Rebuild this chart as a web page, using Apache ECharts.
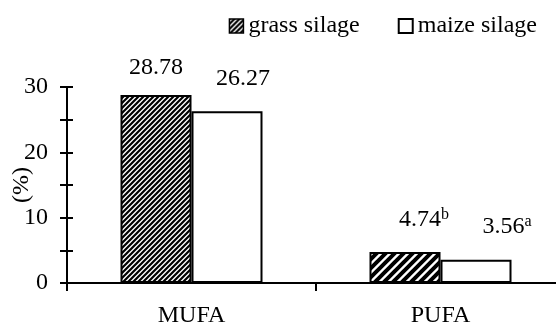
<!DOCTYPE html>
<html><head><meta charset="utf-8">
<script src="https://cdn.jsdelivr.net/npm/echarts@6/dist/echarts.min.js"></script>
<style>html,body{margin:0;padding:0;background:#fff}#c{width:556px;height:328px}</style>
</head><body><div id="c"></div>
<script>
var categories = ['MUFA', 'PUFA'];
var grassValues = [28.78, 4.74];
var maizeValues = [26.27, 3.56];
var grassSup = ['', 'b'];
var maizeSup = ['', 'a'];
var yMin = 0, yMax = 30, yStep = 5, yLabelStep = 10;

var grassLabelOffset = [[0, -14], [19, -19]];
var maizeLabelOffset = [[16, -20], [31, -20]];

function hatch(period, lw) {
  var c = document.createElement('canvas');
  c.width = period; c.height = period;
  var g = c.getContext('2d');
  g.fillStyle = '#fff'; g.fillRect(0, 0, period, period);
  g.strokeStyle = '#000'; g.lineWidth = lw;
  g.beginPath();
  for (var k = -1; k <= 1; k++) {
    g.moveTo(-period + k * period, period * 2);
    g.lineTo(period * 2 + k * period, -period);
  }
  g.stroke();
  return { image: c, repeat: 'repeat' };
}
var hatchFine = hatch(5, 2.2);
var hatchCoarse = hatch(9, 4);

var font = '"Liberation Serif", "Times New Roman", serif';
var FS = 24;
var rich = {
  v: { fontFamily: font, fontSize: FS, color: '#000', lineHeight: 26 },
  s: { fontFamily: font, fontSize: 16, color: '#000', lineHeight: 26, verticalAlign: 'top', padding: [0, 0, 10, 0] }
};

function items(vals, sups, offs, colors) {
  return vals.map(function (v, i) {
    return {
      value: v,
      itemStyle: colors ? { color: colors[i] } : undefined,
      label: { offset: offs[i], formatter: '{v|' + v.toFixed(2) + '}' + (sups[i] ? '{s|' + sups[i] + '}' : '') }
    };
  });
}

var chart = echarts.init(document.getElementById('c'), null, { renderer: 'canvas' });
chart.setOption({
  animation: false,
  backgroundColor: '#fff',
  textStyle: { fontFamily: font },
  legend: {
    right: 14, top: 9,
    itemWidth: 14, itemHeight: 14, itemGap: 38,
    textStyle: { fontFamily: font, fontSize: FS, color: '#000' },
    data: [
      { name: 'grass silage', icon: 'rect', itemStyle: { color: hatchFine, borderColor: '#000', borderWidth: 1.5 } },
      { name: 'maize silage', icon: 'rect', itemStyle: { color: '#fff', borderColor: '#000', borderWidth: 2 } }
    ]
  },
  grid: { left: 67, right: -9, top: 87, bottom: 45, containLabel: false, outerBoundsMode: 'none' },
  xAxis: {
    type: 'category', data: categories,
    axisLine: { lineStyle: { color: '#000', width: 2 } },
    axisTick: { show: true, length: 8, lineStyle: { color: '#000', width: 2 } },
    axisLabel: { fontFamily: font, fontSize: FS, color: '#000', margin: 21 }
  },
  yAxis: [{
    type: 'value', min: yMin, max: yMax, interval: yStep,
    name: '(%)', nameLocation: 'middle', nameGap: 33, nameRotate: 90, nameMoveOverlap: false,
    nameTextStyle: { fontFamily: font, fontSize: FS, color: '#000' },
    axisLine: { show: true, lineStyle: { color: '#000', width: 2 } },
    axisTick: { show: true, length: 7, lineStyle: { color: '#000', width: 2 } },
    axisLabel: { fontFamily: font, fontSize: FS, color: '#000', margin: 19,
      formatter: function (v) { return v % yLabelStep === 0 ? String(v) : ''; } },
    splitLine: { show: false }
  }, {
    type: 'value', min: yMin, max: yMax, interval: yStep, position: 'left',
    axisLine: { show: false },
    axisTick: { show: true, inside: true, length: 6, lineStyle: { color: '#000', width: 2 } },
    axisLabel: { show: false }, splitLine: { show: false }
  }],
  series: [{
    name: 'grass silage', type: 'bar', barWidth: 71, barGap: '0%',
    itemStyle: { color: hatchFine, borderColor: '#000', borderWidth: 2 },
    label: { show: true, position: 'top', distance: 0, rich: rich },
    data: items(grassValues, grassSup, grassLabelOffset, [hatchFine, hatchCoarse])
  }, {
    name: 'maize silage', type: 'bar', barWidth: 71, barGap: '0%',
    itemStyle: { color: '#fff', borderColor: '#000', borderWidth: 2 },
    label: { show: true, position: 'top', distance: 0, rich: rich },
    data: items(maizeValues, maizeSup, maizeLabelOffset)
  }]
});
</script></body></html>
